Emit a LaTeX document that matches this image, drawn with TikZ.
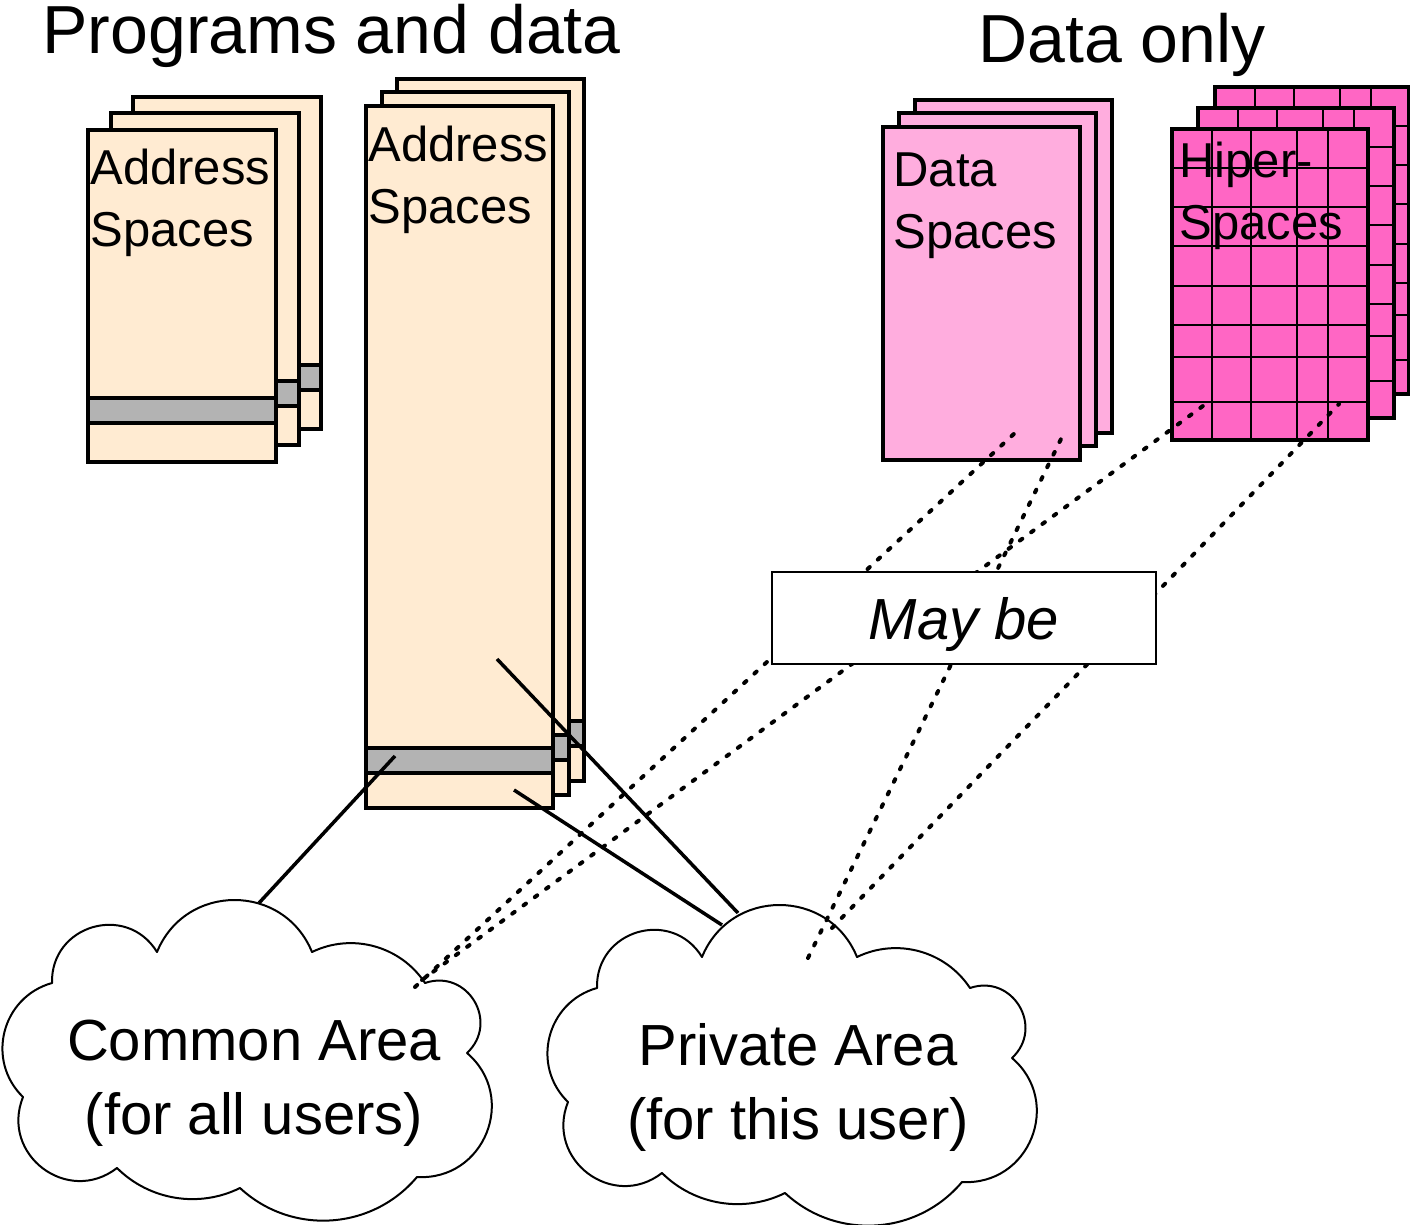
\documentclass[tikz,border=0pt]{standalone}
\usepackage{fontspec}
\setmainfont{Liberation Sans}
\definecolor{peach}{RGB}{255,235,210}
\definecolor{bandgray}{RGB}{179,179,179}
\definecolor{datapink}{RGB}{255,173,222}
\definecolor{hiperpink}{RGB}{255,102,196}

\tikzset{
  pageedge/.style={draw=black, line width=2pt},
  gridline/.style={draw=black, line width=1pt},
  cloudedge/.style={draw=black, line width=1pt, line cap=round},
  link/.style={draw=black, line width=1.75pt},
  maybelink/.style={draw=black, line width=2pt, line cap=round, dash pattern=on 1.5pt off 5.5pt},
  pagetext/.style={inner sep=0pt, anchor=base west, font=\fontsize{24.5}{31}\selectfont},
  cloudtext/.style={inner sep=0pt, anchor=base, font=\fontsize{29}{37}\selectfont},
  headtext/.style={inner sep=0pt, anchor=base west, font=\fontsize{34}{40}\selectfont},
}

% plain page: x, y, width, height, fill colour
\newcommand\plainpage[5]{%
  \filldraw[pageedge, fill=#5] (#1,#2) rectangle ++(#3,#4);}
% grey band across a page: x, y, width
\newcommand\pageband[3]{%
  \filldraw[pageedge, fill=bandgray] (#1,#2) rectangle ++(#3,25);}
% gridded page: x, y, width, height
\newcommand\gridpage[4]{%
  \fill[hiperpink] (#1,#2) rectangle ++(#3,#4);
  \foreach \gx in {40,79,125,156} \draw[gridline] ({#1+\gx},#2) -- ++(0,#4);
  \foreach \gy in {39,78,117,157,196,228,273} \draw[gridline] (#1,{#2+\gy}) -- ++(#3,0);
  \draw[pageedge] (#1,#2) rectangle ++(#3,#4);}

% one circular bump of a cloud from (#1,#2) to (#3,#4), bulging by #5
\newcommand\cloudarc[5]{%
  \pgfmathsetmacro\cadx{(#3-#1)/100}%
  \pgfmathsetmacro\cady{(#4-#2)/100}%
  \pgfmathsetmacro\caL{sqrt(\cadx*\cadx+\cady*\cady)}%
  \pgfmathsetmacro\caux{\cadx/\caL}%
  \pgfmathsetmacro\cauy{\cady/\caL}%
  \pgfmathsetmacro\cah{#5/100}%
  \pgfmathsetmacro\caR{(\caL*\caL/4+\cah*\cah)/(2*\cah)}%
  \pgfmathsetmacro\caA{asin(min(1,\caL/(2*\caR)))}%
  \pgfmathsetmacro\caK{100*4/3*tan(\caA/2)*\caR}%
  \pgfmathsetmacro\cat{\caK*cos(\caA)}%
  \pgfmathsetmacro\can{\caK*sin(\caA)}%
  \draw[cloudedge] (#1,#2) .. controls ({#1+\cat*\caux+\can*\cauy},{#2+\cat*\cauy-\can*\caux}) and ({#3-\cat*\caux+\can*\cauy},{#4-\cat*\cauy-\can*\caux}) .. (#3,#4);}

\newcommand\cloudoutline{%
  \cloudarc{157}{952}{312}{952}{52}
  \cloudarc{312}{952}{425}{983}{22}
  \cloudarc{425}{983}{467}{1053}{33}
  \cloudarc{467}{1053}{417}{1177}{48}
  \cloudarc{417}{1177}{240}{1188}{38}
  \cloudarc{240}{1188}{117}{1168}{20}
  \cloudarc{117}{1168}{23}{1097}{45}
  \cloudarc{23}{1097}{52}{983}{34}
  \cloudarc{52}{983}{157}{952}{42}}

\begin{document}
\begin{tikzpicture}[x=0.5pt, y=-0.5pt]
\useasboundingbox (0,0) rectangle (1410,1225);

% headings
\node[headtext] (hdProg) at (42,54) {Programs and data};
\node[headtext] (hdData) at (978,63) {Data only};

% short address-space stack
\plainpage{133}{97}{188}{332}{peach}
\pageband{133}{365}{188}
\plainpage{110.5}{113.5}{188}{332}{peach}
\pageband{110.5}{381.5}{188}
\plainpage{88}{130}{188}{332}{peach}
\pageband{88}{398}{188}
\node[pagetext] (asShort) at (90,185) {\begin{tabular}[t]{@{}l@{}}Address\\Spaces\end{tabular}};

% tall address-space stack
\plainpage{397}{79}{187}{702}{peach}
\pageband{397}{721}{187}
\plainpage{381.5}{92.5}{187}{702}{peach}
\pageband{381.5}{734.5}{187}
\plainpage{366}{106}{187}{702}{peach}
\pageband{366}{748}{187}
\node[pagetext] (asTall) at (368,162) {\begin{tabular}[t]{@{}l@{}}Address\\Spaces\end{tabular}};

% data-space stack
\plainpage{915}{100}{197}{333}{datapink}
\plainpage{899}{113.5}{197}{333}{datapink}
\plainpage{883}{127}{197}{333}{datapink}
\node[pagetext] (dsText) at (893,187) {\begin{tabular}[t]{@{}l@{}}Data\\Spaces\end{tabular}};

% hiperspace stack
\gridpage{1215}{87}{194}{307}
\gridpage{1198}{108}{196}{310}
\gridpage{1172}{129}{196}{311}
\node[pagetext] (hsText) at (1179,178) {\begin{tabular}[t]{@{}l@{}}Hiper-\\Spaces\end{tabular}};

% clouds
\cloudoutline
\begin{scope}[shift={(545,5)}]
  \cloudoutline
\end{scope}
\node[cloudtext] (common) at (254,1060) {\begin{tabular}[t]{@{}c@{}}Common Area\\(for all users)\end{tabular}};
\node[cloudtext] (private) at (798,1065) {\begin{tabular}[t]{@{}c@{}}Private Area\\(for this user)\end{tabular}};

% connector ends
\coordinate (tallBand) at (395,756);
\coordinate (tallMid) at (497,659);
\coordinate (tallLow) at (514,790);
\coordinate (commonTop) at (259,903);
\coordinate (privTopA) at (738,913);
\coordinate (privTopB) at (722,925);
\coordinate (commonEdgeA) at (415,987);
\coordinate (commonEdgeB) at (422,980);
\coordinate (privInA) at (808,958);
\coordinate (privInB) at (832,928);
\coordinate (dsFront) at (1016,432);
\coordinate (dsRight) at (1061,439);
\coordinate (hsLeft) at (1207,403);
\coordinate (hsRight) at (1339,404);

% solid links
\draw[link] (tallBand) -- (commonTop);
\draw[link] (tallMid) -- (privTopA);
\draw[link] (tallLow) -- (privTopB);

% dotted links
\draw[maybelink] (commonEdgeA) -- (dsFront);
\draw[maybelink] (commonEdgeB) -- (hsLeft);
\draw[maybelink] (privInA) -- (dsRight);
\draw[maybelink] (privInB) -- (hsRight);

% label box over the dotted links
\node[draw=black, line width=0.7pt, fill=white, minimum width=192pt, minimum height=46pt,
      inner sep=0pt, text depth=0pt, font=\fontsize{29}{34}\selectfont\itshape] (maybe) at (964,618) {May be};
\end{tikzpicture}
\end{document}
